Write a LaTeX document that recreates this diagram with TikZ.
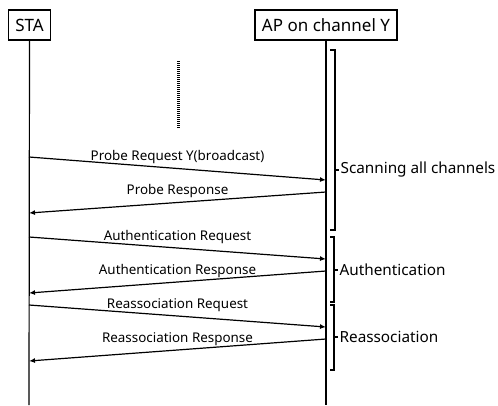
\documentclass[tikz,border=0pt]{standalone}
\usepackage{fontspec}
\setmainfont{Noto Sans}
\usetikzlibrary{arrows.meta,positioning}

\begin{document}
\begin{tikzpicture}
[x=1pt, y=-1pt,
entity/.style={rectangle, draw=black, line width=1.3pt, minimum height=30pt, inner xsep=7pt, font=\fontsize{17}{17}\selectfont},
life/.style={line width=1.2pt},
msg/.style={-{Latex[length=6pt,width=5pt]}, line width=1.2pt},
lbl/.style={font=\fontsize{13.4}{14}\selectfont, inner sep=1pt, above=3pt},
phase/.style={font=\fontsize{15.3}{16}\selectfont, anchor=west, inner sep=1pt},
brace/.style={line width=1.2pt},
dots/.style={line width=3pt, dash pattern=on 1pt off 1pt}
]
\useasboundingbox (0,0) rectangle (498,405);
%Nodes
\node[entity]       (sta)       at (29.5,25)    {STA};
\node[entity]       (ap)        at (326,25)     {AP on channel Y};
\coordinate         (sta_end)   at (29,405);
\coordinate         (ap_end)    at (326,405);
\coordinate         (dot_top)   at (178,61);
\coordinate         (dot_bot)   at (178,128);

%message ends
\coordinate (sta1) at (29,157);  \coordinate (ap1) at (326,180);
\coordinate (ap2)  at (326,192); \coordinate (sta2) at (29,213);
\coordinate (sta3) at (29,237);  \coordinate (ap3) at (326,259);
\coordinate (ap4)  at (326,271); \coordinate (sta4) at (29,293);
\coordinate (sta5) at (29,305);  \coordinate (ap5) at (326,327);
\coordinate (ap6)  at (326,339); \coordinate (sta6) at (29,361);

%Lines
\draw[life] (sta.south) -- (sta_end);
\draw[life] (ap.south) -- (ap_end);
\draw[dots] (dot_top) -- (dot_bot);
\path[msg]
(sta1) edge     node [lbl]  {Probe Request Y(broadcast)}    (ap1)
(ap2)  edge     node [lbl]  {Probe Response}                (sta2)
(sta3) edge     node [lbl]  {Authentication Request}        (ap3)
(ap4)  edge     node [lbl]  {Authentication Response}       (sta4)
(sta5) edge     node [lbl]  {Reassociation Request}         (ap5)
(ap6)  edge     node [lbl]  {Reassociation Response}        (sta6);

%Brackets
\draw[brace] (330,50) -- (335,50) -- (335,230) -- (330,230);
\draw[brace] (335,170) -- (339,170) node[phase] {Scanning all channels};
\draw[brace] (330,237) -- (334,237) -- (334,302) -- (330,302);
\draw[brace] (334,270) -- (338,270) node[phase] {Authentication};
\draw[brace] (330,305) -- (334,305) -- (334,370) -- (330,370);
\draw[brace] (334,337) -- (338,337) node[phase] {Reassociation};
\end{tikzpicture}
\end{document}
